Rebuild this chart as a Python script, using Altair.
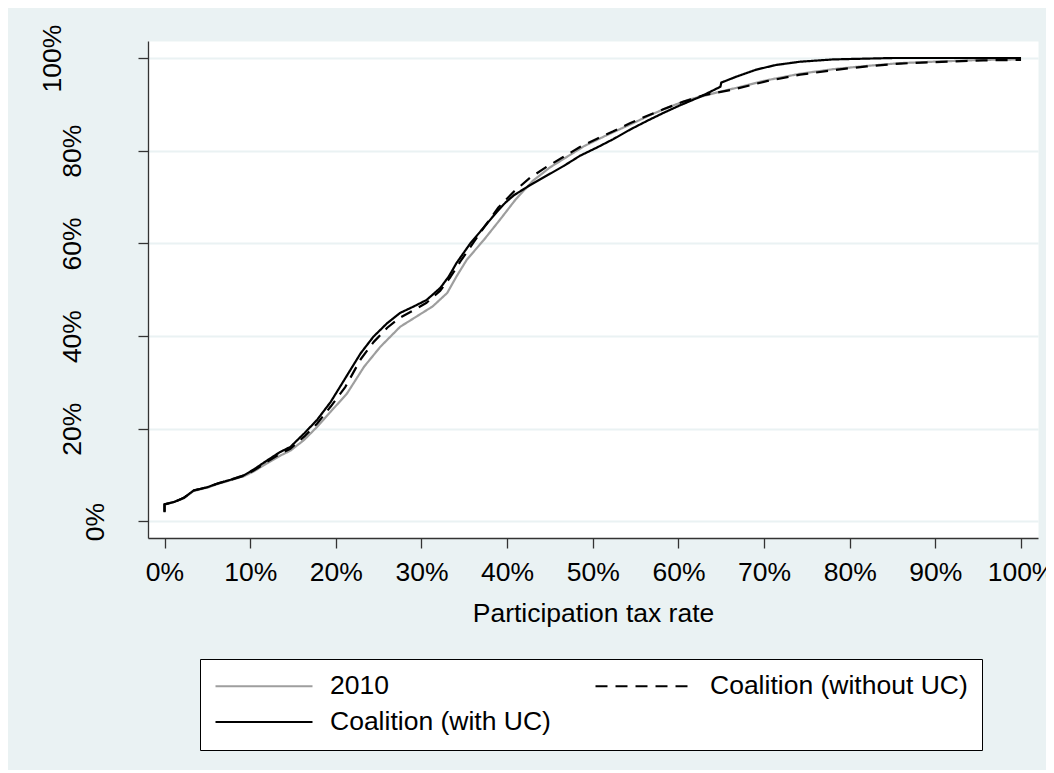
import altair as alt
import pandas as pd

series_names = ["2010", "Coalition (without UC)", "Coalition (with UC)"]

x_2010 = [0, 0, 0.011, 0.0225, 0.034, 0.05, 0.062, 0.077, 0.093, 0.104, 0.12, 0.135, 0.147,
          0.163, 0.178, 0.194, 0.213, 0.233, 0.252, 0.275, 0.294, 0.313, 0.33, 0.341, 0.353,
          0.373, 0.392, 0.41, 0.43, 0.45, 0.47, 0.49, 0.51, 0.53, 0.55, 0.567, 0.59, 0.612,
          0.637, 0.664, 0.703, 0.742, 0.781, 0.82, 0.859, 0.898, 0.956, 1.0]
y_2010 = [0.022, 0.037, 0.042, 0.05, 0.066, 0.073, 0.081, 0.089, 0.098, 0.108, 0.126, 0.142, 0.153,
          0.176, 0.204, 0.237, 0.276, 0.334, 0.377, 0.42, 0.442, 0.464, 0.493, 0.529, 0.565,
          0.608, 0.652, 0.695, 0.735, 0.764, 0.787, 0.81, 0.828, 0.845, 0.862, 0.877, 0.895, 0.91,
          0.922, 0.934, 0.952, 0.966, 0.976, 0.983, 0.989, 0.992, 0.996, 0.997]

x_without = [0, 0, 0.011, 0.0225, 0.034, 0.05, 0.062, 0.077, 0.093, 0.104, 0.12, 0.135, 0.147,
             0.163, 0.178, 0.194, 0.211, 0.229, 0.244, 0.26, 0.275, 0.291, 0.306, 0.322, 0.334,
             0.345, 0.36, 0.375, 0.39, 0.408, 0.427, 0.446, 0.466, 0.485, 0.505, 0.524, 0.544,
             0.563, 0.583, 0.606, 0.63, 0.664, 0.703, 0.742, 0.781, 0.82, 0.859, 0.898, 0.956, 1.0]
y_without = [0.021, 0.037, 0.042, 0.051, 0.067, 0.074, 0.082, 0.09, 0.099, 0.11, 0.129, 0.146, 0.157,
             0.183, 0.211, 0.248, 0.29, 0.35, 0.387, 0.418, 0.44, 0.456, 0.472, 0.498, 0.528,
             0.56, 0.6, 0.64, 0.678, 0.712, 0.742, 0.765, 0.787, 0.808, 0.826, 0.842, 0.86,
             0.875, 0.89, 0.906, 0.92, 0.932, 0.95, 0.964, 0.974, 0.982, 0.988, 0.991, 0.995, 0.996]

x_with = [0, 0, 0.011, 0.0225, 0.034, 0.05, 0.062, 0.077, 0.093, 0.104, 0.12, 0.135, 0.147,
          0.163, 0.178, 0.194, 0.209, 0.229, 0.244, 0.26, 0.275, 0.291, 0.306, 0.322, 0.332,
          0.341, 0.357, 0.373, 0.388, 0.398, 0.408, 0.427, 0.446, 0.466, 0.485, 0.505, 0.524, 0.544,
          0.563, 0.583, 0.602, 0.625, 0.649, 0.650, 0.668, 0.691, 0.714, 0.742, 0.781, 0.85, 1.0]
y_with = [0.02, 0.037, 0.042, 0.051, 0.067, 0.074, 0.082, 0.09, 0.1, 0.112, 0.132, 0.15, 0.161,
          0.19, 0.219, 0.258, 0.303, 0.363, 0.399, 0.428, 0.45, 0.464, 0.478, 0.504, 0.529,
          0.558, 0.6, 0.635, 0.668, 0.688, 0.704, 0.726, 0.746, 0.767, 0.789, 0.807, 0.825, 0.846,
          0.864, 0.882, 0.898, 0.916, 0.938, 0.947, 0.96, 0.975, 0.985, 0.992, 0.997, 1.0, 1.0]

x_ticks = [0, 0.1, 0.2, 0.3, 0.4, 0.5, 0.6, 0.7, 0.8, 0.9, 1.0]
y_ticks = [0, 0.2, 0.4, 0.6, 0.8, 1.0]
x_title = "Participation tax rate"

rows = []
for name, xs, ys in zip(series_names, [x_2010, x_without, x_with], [y_2010, y_without, y_with]):
    for i, (a, b) in enumerate(zip(xs, ys)):
        rows.append({"series": name, "x": a, "y": b, "i": i})
df = pd.DataFrame(rows)

FONT = "Liberation Sans"
FS = 26.5
AXIS_COLOR = "#333333"

color_scale = alt.Scale(domain=series_names, range=["#9e9e9e", "#000000", "#000000"])
dash_scale = alt.Scale(domain=series_names, range=[[1, 0], [12, 8], [1, 0]])

legend = alt.Legend(
    title=None, orient="none", legendX=52, legendY=618, columns=2,
    direction="horizontal", values=series_names,
    symbolType="stroke", symbolSize=9409, symbolStrokeWidth=2.2, clipHeight=26,
    rowPadding=9, columnPadding=43, padding=14, labelOffset=16,
    labelFont=FONT, labelFontSize=FS, labelColor="black", labelLimit=600,
    fillColor="white", strokeColor="black", cornerRadius=0,
)

x_axis = alt.Axis(
    values=x_ticks, format=".0%", title=x_title, grid=False,
    tickSize=10, tickColor=AXIS_COLOR, tickWidth=1.3,
    domainColor=AXIS_COLOR, domainWidth=1.3,
    labelFont=FONT, labelFontSize=FS, labelColor="black", labelPadding=11,
    labelFlush=False, labelOverlap=False,
    titleFont=FONT, titleFontSize=FS, titleFontWeight="normal", titleColor="black",
    titlePadding=15,
)

y_axis = alt.Axis(
    values=y_ticks, format=".0%", title=None, grid=True,
    gridColor="#EAF2F3", gridWidth=2,
    tickSize=10, tickColor=AXIS_COLOR, tickWidth=1.3,
    domainColor=AXIS_COLOR, domainWidth=1.3,
    labelFont=FONT, labelFontSize=FS, labelColor="black",
    labelAngle=270, labelAlign="center", labelBaseline="alphabetic",
    labelPadding={"condition": [{"test": "datum.value > 0.99", "value": 78},
                                {"test": "datum.value < 0.01", "value": 35}],
                  "value": 58},
    labelFlush=False, labelOverlap=False,
)

chart = alt.Chart(df).mark_line(strokeWidth=2.2, strokeJoin="round").encode(
    x=alt.X("x:Q", scale=alt.Scale(domain=[-0.0193, 1.0198], nice=False, zero=False), axis=x_axis),
    y=alt.Y("y:Q", scale=alt.Scale(domain=[-0.0356, 1.0367], nice=False, zero=False), axis=y_axis),
    color=alt.Color("series:N", scale=color_scale, legend=legend),
    strokeDash=alt.StrokeDash("series:N", scale=dash_scale, legend=legend),
    order=alt.Order("i:Q"),
).properties(
    width=890, height=497, background="#EAF2F3",
    padding={"left": 140, "top": 33, "right": 8, "bottom": 232},
    autosize=alt.AutoSizeParams(type="none"),
).configure_view(fill="white", stroke="transparent")

chart.save("out.html", embed_options={"renderer": "svg", "actions": False})
